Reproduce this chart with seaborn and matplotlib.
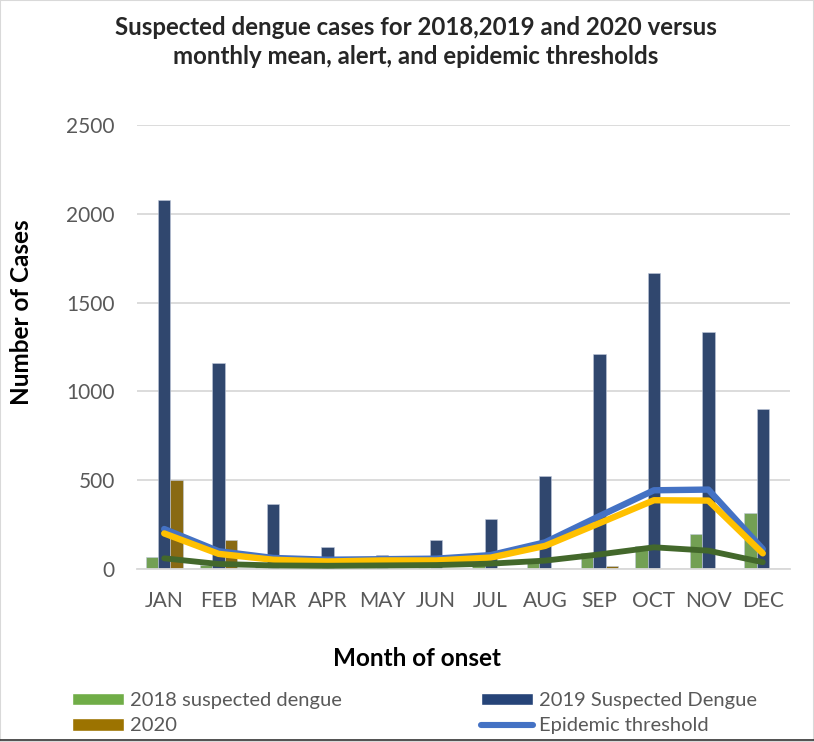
import numpy as np
import pandas as pd
import matplotlib
matplotlib.use("Agg")
import matplotlib.pyplot as plt
from matplotlib.patches import Patch, Rectangle
from matplotlib.lines import Line2D
import seaborn as sns

# Monthly data
months = ["JAN", "FEB", "MAR", "APR", "MAY", "JUN", "JUL", "AUG", "SEP", "OCT", "NOV", "DEC"]
cases_2018 = [68, 20, 15, 10, 12, 15, 25, 45, 92, 127, 199, 317]
cases_2019 = [2075, 1160, 363, 126, 77, 161, 280, 525, 1210, 1665, 1333, 903]
cases_2020 = [502, 165, 0, 0, 0, 0, 8, 5, 18, 0, 0, 0]
epidemic_threshold = [225, 100, 62, 52, 55, 58, 78, 150, 298, 443, 447, 112]
alert_threshold = [200, 85, 52, 42, 48, 48, 64, 130, 258, 387, 385, 88]
monthly_mean = [60, 28, 20, 18, 20, 22, 30, 47, 82, 122, 103, 38]

series_names = ["2018 suspected dengue", "2019 Suspected Dengue", "2020"]
bar_colors = ["#70AD47", "#264478", "#9C7300"]
line_blue, line_yellow, line_green = "#4472C4", "#FFC000", "#43682B"

sns.set_theme(style="white")
plt.rcParams["font.family"] = ["Lato", "DejaVu Sans"]

df = pd.DataFrame({
    "month": months * 3,
    "cases": cases_2018 + cases_2019 + cases_2020,
    "series": sum([[s] * 12 for s in series_names], []),
})

fig = plt.figure(figsize=(8.14, 7.42), dpi=100)
ax = fig.add_axes([0.1683, 0.2332, 0.8022, 0.5984])

sns.barplot(data=df, x="month", y="cases", hue="series", hue_order=series_names,
            palette=bar_colors, width=0.68, ax=ax, legend=False,
            edgecolor="#BFC9DA", linewidth=0.4, errorbar=None, zorder=2)

x = np.arange(len(months))
sns.lineplot(x=x, y=epidemic_threshold, color=line_blue, linewidth=4.6, ax=ax,
             solid_capstyle="round", solid_joinstyle="round", zorder=3)
sns.lineplot(x=x, y=alert_threshold, color=line_yellow, linewidth=4.6, ax=ax,
             solid_capstyle="round", solid_joinstyle="round", zorder=4)
sns.lineplot(x=x, y=monthly_mean, color=line_green, linewidth=4.2, ax=ax,
             solid_capstyle="round", solid_joinstyle="round", zorder=5)

ax.set_xlim(-0.5, 11.5)
ax.set_ylim(0, 2500)
ax.set_yticks([0, 500, 1000, 1500, 2000, 2500])
ax.yaxis.grid(True, color="#D9D9D9", linewidth=1.3)
ax.set_axisbelow(True)
for side in ["top", "right", "left"]:
    ax.spines[side].set_visible(False)
ax.spines["bottom"].set_color("#D9D9D9")
ax.spines["bottom"].set_linewidth(1.3)
ax.tick_params(axis="both", length=0, colors="#595959", labelsize=15)
ax.tick_params(axis="y", pad=16)
ax.tick_params(axis="x", pad=16)
ax.set_xlabel("")
ax.set_ylabel("")

fig.text(417 / 814, 1 - 658 / 742, "Month of onset", ha="center", va="center",
         fontsize=17.5, fontweight="bold", color="black")
fig.text(22 / 814, 1 - 312 / 742, "Number of Cases", ha="center", va="center",
         rotation=90, fontsize=17.5, fontweight="bold", color="black")

fig.text(416 / 814, 1 - 42 / 742,
         "Suspected dengue cases for 2018,2019 and 2020 versus\nmonthly mean, alert, and epidemic thresholds",
         ha="center", va="center", fontsize=17.3, fontweight="bold", linespacing=1.35)

handles = [
    Patch(facecolor=bar_colors[0]),
    Patch(facecolor=bar_colors[2]),
    Patch(facecolor=bar_colors[1]),
    Line2D([0], [0], color=line_blue, linewidth=4.4, solid_capstyle="round"),
]
labels = [series_names[0], series_names[2], series_names[1], "Epidemic threshold"]
fig.legend(handles, labels, ncol=2, loc="upper left", bbox_to_anchor=(0.088, 1 - 692 / 742),
           frameon=False, fontsize=14.5, handlelength=2.6, handleheight=0.6,
           handletextpad=0.3, columnspacing=6.9, labelspacing=0.42,
           labelcolor="#595959", borderaxespad=0, borderpad=0)

fig.add_artist(Rectangle((0, 0), 1, 1, transform=fig.transFigure, fill=False,
                         edgecolor="#D9D9D9", linewidth=1.5))
fig.add_artist(Line2D([0, 1], [0.003, 0.003], transform=fig.transFigure, color="#333333", linewidth=1.2))

fig.savefig("out.png", dpi=100)
